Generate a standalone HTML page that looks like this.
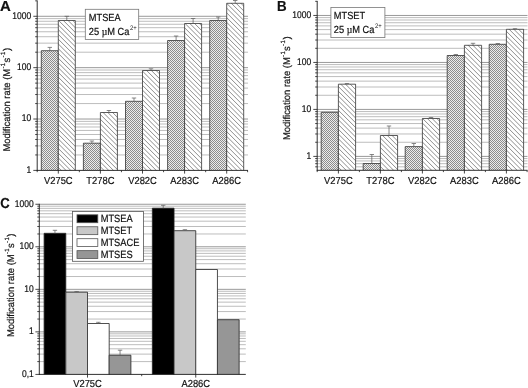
<!DOCTYPE html>
<html><head><meta charset="utf-8"><title>Figure</title>
<style>
html,body{margin:0;padding:0;background:#fff;}
body{width:528px;height:388px;overflow:hidden;font-family:"Liberation Sans",sans-serif;}
svg{display:block;will-change:transform;}
svg text{stroke:#111;stroke-width:0.2px;text-rendering:geometricPrecision;font-family:"Liberation Sans",sans-serif;fill:#111;}
</style></head><body>
<svg width="528" height="388" viewBox="0 0 528 388">
<defs>
<pattern id="dense" patternUnits="userSpaceOnUse" width="2" height="2">
<rect width="2" height="2" fill="#ececec"/>
<rect x="0" y="0" width="1" height="1" fill="#8c8c8c"/>
<rect x="1" y="1" width="1" height="1" fill="#8c8c8c"/>
</pattern>
</defs>
<rect width="528" height="388" fill="#fff"/>
<line x1="37.2" x2="248.0" y1="154.94" y2="154.94" stroke="#bdbdbd" stroke-width="1"/>
<line x1="37.2" x2="248.0" y1="145.89" y2="145.89" stroke="#bdbdbd" stroke-width="1"/>
<line x1="37.2" x2="248.0" y1="139.47" y2="139.47" stroke="#bdbdbd" stroke-width="1"/>
<line x1="37.2" x2="248.0" y1="134.49" y2="134.49" stroke="#bdbdbd" stroke-width="1"/>
<line x1="37.2" x2="248.0" y1="130.43" y2="130.43" stroke="#bdbdbd" stroke-width="1"/>
<line x1="37.2" x2="248.0" y1="126.99" y2="126.99" stroke="#bdbdbd" stroke-width="1"/>
<line x1="37.2" x2="248.0" y1="124.01" y2="124.01" stroke="#bdbdbd" stroke-width="1"/>
<line x1="37.2" x2="248.0" y1="121.38" y2="121.38" stroke="#bdbdbd" stroke-width="1"/>
<line x1="37.2" x2="248.0" y1="119.03" y2="119.03" stroke="#999" stroke-width="1"/>
<line x1="37.2" x2="248.0" y1="103.57" y2="103.57" stroke="#bdbdbd" stroke-width="1"/>
<line x1="37.2" x2="248.0" y1="94.52" y2="94.52" stroke="#bdbdbd" stroke-width="1"/>
<line x1="37.2" x2="248.0" y1="88.10" y2="88.10" stroke="#bdbdbd" stroke-width="1"/>
<line x1="37.2" x2="248.0" y1="83.12" y2="83.12" stroke="#bdbdbd" stroke-width="1"/>
<line x1="37.2" x2="248.0" y1="79.06" y2="79.06" stroke="#bdbdbd" stroke-width="1"/>
<line x1="37.2" x2="248.0" y1="75.62" y2="75.62" stroke="#bdbdbd" stroke-width="1"/>
<line x1="37.2" x2="248.0" y1="72.64" y2="72.64" stroke="#bdbdbd" stroke-width="1"/>
<line x1="37.2" x2="248.0" y1="70.01" y2="70.01" stroke="#bdbdbd" stroke-width="1"/>
<line x1="37.2" x2="248.0" y1="67.66" y2="67.66" stroke="#999" stroke-width="1"/>
<line x1="37.2" x2="248.0" y1="52.20" y2="52.20" stroke="#bdbdbd" stroke-width="1"/>
<line x1="37.2" x2="248.0" y1="43.15" y2="43.15" stroke="#bdbdbd" stroke-width="1"/>
<line x1="37.2" x2="248.0" y1="36.73" y2="36.73" stroke="#bdbdbd" stroke-width="1"/>
<line x1="37.2" x2="248.0" y1="31.75" y2="31.75" stroke="#bdbdbd" stroke-width="1"/>
<line x1="37.2" x2="248.0" y1="27.69" y2="27.69" stroke="#bdbdbd" stroke-width="1"/>
<line x1="37.2" x2="248.0" y1="24.25" y2="24.25" stroke="#bdbdbd" stroke-width="1"/>
<line x1="37.2" x2="248.0" y1="21.27" y2="21.27" stroke="#bdbdbd" stroke-width="1"/>
<line x1="37.2" x2="248.0" y1="18.64" y2="18.64" stroke="#bdbdbd" stroke-width="1"/>
<line x1="37.2" x2="248.0" y1="16.29" y2="16.29" stroke="#999" stroke-width="1"/>
<rect x="41.30" y="50.70" width="17.00" height="119.70" fill="#fff" stroke="none"/>
<rect x="41.30" y="50.70" width="17.00" height="119.70" fill="url(#dense)" stroke="none"/>
<path d="M41.30,170.40V50.70H58.30V170.40" fill="none" stroke="#333" stroke-width="0.8"/>
<line x1="49.80" x2="49.80" y1="50.70" y2="47.40" stroke="#606060" stroke-width="0.75"/>
<line x1="47.60" x2="52.00" y1="47.40" y2="47.40" stroke="#606060" stroke-width="0.75"/>
<rect x="58.30" y="20.50" width="17.00" height="149.90" fill="#fff" stroke="none"/>
<clipPath id="c1"><rect x="58.30" y="20.50" width="17.00" height="149.90"/></clipPath>
<path clip-path="url(#c1)" d="M57.30,0.20L76.30,19.20M57.30,4.95L76.30,23.95M57.30,9.70L76.30,28.70M57.30,14.45L76.30,33.45M57.30,19.20L76.30,38.20M57.30,23.95L76.30,42.95M57.30,28.70L76.30,47.70M57.30,33.45L76.30,52.45M57.30,38.20L76.30,57.20M57.30,42.95L76.30,61.95M57.30,47.70L76.30,66.70M57.30,52.45L76.30,71.45M57.30,57.20L76.30,76.20M57.30,61.95L76.30,80.95M57.30,66.70L76.30,85.70M57.30,71.45L76.30,90.45M57.30,76.20L76.30,95.20M57.30,80.95L76.30,99.95M57.30,85.70L76.30,104.70M57.30,90.45L76.30,109.45M57.30,95.20L76.30,114.20M57.30,99.95L76.30,118.95M57.30,104.70L76.30,123.70M57.30,109.45L76.30,128.45M57.30,114.20L76.30,133.20M57.30,118.95L76.30,137.95M57.30,123.70L76.30,142.70M57.30,128.45L76.30,147.45M57.30,133.20L76.30,152.20M57.30,137.95L76.30,156.95M57.30,142.70L76.30,161.70M57.30,147.45L76.30,166.45M57.30,152.20L76.30,171.20M57.30,156.95L76.30,175.95M57.30,161.70L76.30,180.70M57.30,166.45L76.30,185.45M57.30,171.20L76.30,190.20" stroke="#404040" stroke-width="0.6" fill="none"/>
<path d="M58.30,170.40V20.50H75.30V170.40" fill="none" stroke="#333" stroke-width="0.8"/>
<line x1="66.80" x2="66.80" y1="20.50" y2="16.30" stroke="#606060" stroke-width="0.75"/>
<line x1="64.60" x2="69.00" y1="16.30" y2="16.30" stroke="#606060" stroke-width="0.75"/>
<rect x="83.40" y="143.20" width="17.00" height="27.20" fill="#fff" stroke="none"/>
<rect x="83.40" y="143.20" width="17.00" height="27.20" fill="url(#dense)" stroke="none"/>
<path d="M83.40,170.40V143.20H100.40V170.40" fill="none" stroke="#333" stroke-width="0.8"/>
<line x1="91.90" x2="91.90" y1="143.20" y2="141.00" stroke="#606060" stroke-width="0.75"/>
<line x1="89.70" x2="94.10" y1="141.00" y2="141.00" stroke="#606060" stroke-width="0.75"/>
<rect x="100.40" y="112.50" width="17.00" height="57.90" fill="#fff" stroke="none"/>
<clipPath id="c2"><rect x="100.40" y="112.50" width="17.00" height="57.90"/></clipPath>
<path clip-path="url(#c2)" d="M99.40,89.80L118.40,108.80M99.40,94.55L118.40,113.55M99.40,99.30L118.40,118.30M99.40,104.05L118.40,123.05M99.40,108.80L118.40,127.80M99.40,113.55L118.40,132.55M99.40,118.30L118.40,137.30M99.40,123.05L118.40,142.05M99.40,127.80L118.40,146.80M99.40,132.55L118.40,151.55M99.40,137.30L118.40,156.30M99.40,142.05L118.40,161.05M99.40,146.80L118.40,165.80M99.40,151.55L118.40,170.55M99.40,156.30L118.40,175.30M99.40,161.05L118.40,180.05M99.40,165.80L118.40,184.80M99.40,170.55L118.40,189.55" stroke="#404040" stroke-width="0.6" fill="none"/>
<path d="M100.40,170.40V112.50H117.40V170.40" fill="none" stroke="#333" stroke-width="0.8"/>
<line x1="108.90" x2="108.90" y1="112.50" y2="110.50" stroke="#606060" stroke-width="0.75"/>
<line x1="106.70" x2="111.10" y1="110.50" y2="110.50" stroke="#606060" stroke-width="0.75"/>
<rect x="125.50" y="101.30" width="17.00" height="69.10" fill="#fff" stroke="none"/>
<rect x="125.50" y="101.30" width="17.00" height="69.10" fill="url(#dense)" stroke="none"/>
<path d="M125.50,170.40V101.30H142.50V170.40" fill="none" stroke="#333" stroke-width="0.8"/>
<line x1="134.00" x2="134.00" y1="101.30" y2="98.00" stroke="#606060" stroke-width="0.75"/>
<line x1="131.80" x2="136.20" y1="98.00" y2="98.00" stroke="#606060" stroke-width="0.75"/>
<rect x="142.50" y="70.50" width="17.00" height="99.90" fill="#fff" stroke="none"/>
<clipPath id="c3"><rect x="142.50" y="70.50" width="17.00" height="99.90"/></clipPath>
<path clip-path="url(#c3)" d="M141.50,51.15L160.50,70.15M141.50,55.90L160.50,74.90M141.50,60.65L160.50,79.65M141.50,65.40L160.50,84.40M141.50,70.15L160.50,89.15M141.50,74.90L160.50,93.90M141.50,79.65L160.50,98.65M141.50,84.40L160.50,103.40M141.50,89.15L160.50,108.15M141.50,93.90L160.50,112.90M141.50,98.65L160.50,117.65M141.50,103.40L160.50,122.40M141.50,108.15L160.50,127.15M141.50,112.90L160.50,131.90M141.50,117.65L160.50,136.65M141.50,122.40L160.50,141.40M141.50,127.15L160.50,146.15M141.50,131.90L160.50,150.90M141.50,136.65L160.50,155.65M141.50,141.40L160.50,160.40M141.50,146.15L160.50,165.15M141.50,150.90L160.50,169.90M141.50,155.65L160.50,174.65M141.50,160.40L160.50,179.40M141.50,165.15L160.50,184.15M141.50,169.90L160.50,188.90" stroke="#404040" stroke-width="0.6" fill="none"/>
<path d="M142.50,170.40V70.50H159.50V170.40" fill="none" stroke="#333" stroke-width="0.8"/>
<line x1="151.00" x2="151.00" y1="70.50" y2="68.80" stroke="#606060" stroke-width="0.75"/>
<line x1="148.80" x2="153.20" y1="68.80" y2="68.80" stroke="#606060" stroke-width="0.75"/>
<rect x="167.60" y="40.50" width="17.00" height="129.90" fill="#fff" stroke="none"/>
<rect x="167.60" y="40.50" width="17.00" height="129.90" fill="url(#dense)" stroke="none"/>
<path d="M167.60,170.40V40.50H184.60V170.40" fill="none" stroke="#333" stroke-width="0.8"/>
<line x1="176.10" x2="176.10" y1="40.50" y2="36.00" stroke="#606060" stroke-width="0.75"/>
<line x1="173.90" x2="178.30" y1="36.00" y2="36.00" stroke="#606060" stroke-width="0.75"/>
<rect x="184.60" y="23.50" width="17.00" height="146.90" fill="#fff" stroke="none"/>
<clipPath id="c4"><rect x="184.60" y="23.50" width="17.00" height="146.90"/></clipPath>
<path clip-path="url(#c4)" d="M183.60,3.00L202.60,22.00M183.60,7.75L202.60,26.75M183.60,12.50L202.60,31.50M183.60,17.25L202.60,36.25M183.60,22.00L202.60,41.00M183.60,26.75L202.60,45.75M183.60,31.50L202.60,50.50M183.60,36.25L202.60,55.25M183.60,41.00L202.60,60.00M183.60,45.75L202.60,64.75M183.60,50.50L202.60,69.50M183.60,55.25L202.60,74.25M183.60,60.00L202.60,79.00M183.60,64.75L202.60,83.75M183.60,69.50L202.60,88.50M183.60,74.25L202.60,93.25M183.60,79.00L202.60,98.00M183.60,83.75L202.60,102.75M183.60,88.50L202.60,107.50M183.60,93.25L202.60,112.25M183.60,98.00L202.60,117.00M183.60,102.75L202.60,121.75M183.60,107.50L202.60,126.50M183.60,112.25L202.60,131.25M183.60,117.00L202.60,136.00M183.60,121.75L202.60,140.75M183.60,126.50L202.60,145.50M183.60,131.25L202.60,150.25M183.60,136.00L202.60,155.00M183.60,140.75L202.60,159.75M183.60,145.50L202.60,164.50M183.60,150.25L202.60,169.25M183.60,155.00L202.60,174.00M183.60,159.75L202.60,178.75M183.60,164.50L202.60,183.50M183.60,169.25L202.60,188.25M183.60,174.00L202.60,193.00" stroke="#404040" stroke-width="0.6" fill="none"/>
<path d="M184.60,170.40V23.50H201.60V170.40" fill="none" stroke="#333" stroke-width="0.8"/>
<line x1="193.10" x2="193.10" y1="23.50" y2="18.50" stroke="#606060" stroke-width="0.75"/>
<line x1="190.90" x2="195.30" y1="18.50" y2="18.50" stroke="#606060" stroke-width="0.75"/>
<rect x="209.70" y="20.50" width="17.00" height="149.90" fill="#fff" stroke="none"/>
<rect x="209.70" y="20.50" width="17.00" height="149.90" fill="url(#dense)" stroke="none"/>
<path d="M209.70,170.40V20.50H226.70V170.40" fill="none" stroke="#333" stroke-width="0.8"/>
<line x1="218.20" x2="218.20" y1="20.50" y2="17.00" stroke="#606060" stroke-width="0.75"/>
<line x1="216.00" x2="220.40" y1="17.00" y2="17.00" stroke="#606060" stroke-width="0.75"/>
<rect x="226.70" y="3.30" width="17.00" height="167.10" fill="#fff" stroke="none"/>
<clipPath id="c5"><rect x="226.70" y="3.30" width="17.00" height="167.10"/></clipPath>
<path clip-path="url(#c5)" d="M225.70,-16.65L244.70,2.35M225.70,-11.90L244.70,7.10M225.70,-7.15L244.70,11.85M225.70,-2.40L244.70,16.60M225.70,2.35L244.70,21.35M225.70,7.10L244.70,26.10M225.70,11.85L244.70,30.85M225.70,16.60L244.70,35.60M225.70,21.35L244.70,40.35M225.70,26.10L244.70,45.10M225.70,30.85L244.70,49.85M225.70,35.60L244.70,54.60M225.70,40.35L244.70,59.35M225.70,45.10L244.70,64.10M225.70,49.85L244.70,68.85M225.70,54.60L244.70,73.60M225.70,59.35L244.70,78.35M225.70,64.10L244.70,83.10M225.70,68.85L244.70,87.85M225.70,73.60L244.70,92.60M225.70,78.35L244.70,97.35M225.70,83.10L244.70,102.10M225.70,87.85L244.70,106.85M225.70,92.60L244.70,111.60M225.70,97.35L244.70,116.35M225.70,102.10L244.70,121.10M225.70,106.85L244.70,125.85M225.70,111.60L244.70,130.60M225.70,116.35L244.70,135.35M225.70,121.10L244.70,140.10M225.70,125.85L244.70,144.85M225.70,130.60L244.70,149.60M225.70,135.35L244.70,154.35M225.70,140.10L244.70,159.10M225.70,144.85L244.70,163.85M225.70,149.60L244.70,168.60M225.70,154.35L244.70,173.35M225.70,159.10L244.70,178.10M225.70,163.85L244.70,182.85M225.70,168.60L244.70,187.60M225.70,173.35L244.70,192.35" stroke="#404040" stroke-width="0.6" fill="none"/>
<path d="M226.70,170.40V3.30H243.70V170.40" fill="none" stroke="#333" stroke-width="0.8"/>
<line x1="235.20" x2="235.20" y1="3.30" y2="0.50" stroke="#606060" stroke-width="0.75"/>
<line x1="233.00" x2="237.40" y1="0.50" y2="0.50" stroke="#606060" stroke-width="0.75"/>
<line x1="37.2" x2="37.2" y1="0.4260891227413083" y2="170.8" stroke="#1a1a1a" stroke-width="0.9"/>
<line x1="36.800000000000004" x2="248.0" y1="170.4" y2="170.4" stroke="#1a1a1a" stroke-width="0.9"/>
<line x1="33.300000000000004" x2="37.2" y1="170.40" y2="170.40" stroke="#1a1a1a" stroke-width="0.8"/>
<text transform="translate(31.20,172.85) scale(0.865,1)" text-anchor="end" font-size="9.8" >1</text>
<line x1="35.2" x2="37.2" y1="154.94" y2="154.94" stroke="#1a1a1a" stroke-width="0.8"/>
<line x1="35.2" x2="37.2" y1="145.89" y2="145.89" stroke="#1a1a1a" stroke-width="0.8"/>
<line x1="35.2" x2="37.2" y1="139.47" y2="139.47" stroke="#1a1a1a" stroke-width="0.8"/>
<line x1="35.2" x2="37.2" y1="134.49" y2="134.49" stroke="#1a1a1a" stroke-width="0.8"/>
<line x1="35.2" x2="37.2" y1="130.43" y2="130.43" stroke="#1a1a1a" stroke-width="0.8"/>
<line x1="35.2" x2="37.2" y1="126.99" y2="126.99" stroke="#1a1a1a" stroke-width="0.8"/>
<line x1="35.2" x2="37.2" y1="124.01" y2="124.01" stroke="#1a1a1a" stroke-width="0.8"/>
<line x1="35.2" x2="37.2" y1="121.38" y2="121.38" stroke="#1a1a1a" stroke-width="0.8"/>
<line x1="33.300000000000004" x2="37.2" y1="119.03" y2="119.03" stroke="#1a1a1a" stroke-width="0.8"/>
<text transform="translate(31.20,121.48) scale(0.865,1)" text-anchor="end" font-size="9.8" >10</text>
<line x1="35.2" x2="37.2" y1="103.57" y2="103.57" stroke="#1a1a1a" stroke-width="0.8"/>
<line x1="35.2" x2="37.2" y1="94.52" y2="94.52" stroke="#1a1a1a" stroke-width="0.8"/>
<line x1="35.2" x2="37.2" y1="88.10" y2="88.10" stroke="#1a1a1a" stroke-width="0.8"/>
<line x1="35.2" x2="37.2" y1="83.12" y2="83.12" stroke="#1a1a1a" stroke-width="0.8"/>
<line x1="35.2" x2="37.2" y1="79.06" y2="79.06" stroke="#1a1a1a" stroke-width="0.8"/>
<line x1="35.2" x2="37.2" y1="75.62" y2="75.62" stroke="#1a1a1a" stroke-width="0.8"/>
<line x1="35.2" x2="37.2" y1="72.64" y2="72.64" stroke="#1a1a1a" stroke-width="0.8"/>
<line x1="35.2" x2="37.2" y1="70.01" y2="70.01" stroke="#1a1a1a" stroke-width="0.8"/>
<line x1="33.300000000000004" x2="37.2" y1="67.66" y2="67.66" stroke="#1a1a1a" stroke-width="0.8"/>
<text transform="translate(31.20,70.11) scale(0.865,1)" text-anchor="end" font-size="9.8" >100</text>
<line x1="35.2" x2="37.2" y1="52.20" y2="52.20" stroke="#1a1a1a" stroke-width="0.8"/>
<line x1="35.2" x2="37.2" y1="43.15" y2="43.15" stroke="#1a1a1a" stroke-width="0.8"/>
<line x1="35.2" x2="37.2" y1="36.73" y2="36.73" stroke="#1a1a1a" stroke-width="0.8"/>
<line x1="35.2" x2="37.2" y1="31.75" y2="31.75" stroke="#1a1a1a" stroke-width="0.8"/>
<line x1="35.2" x2="37.2" y1="27.69" y2="27.69" stroke="#1a1a1a" stroke-width="0.8"/>
<line x1="35.2" x2="37.2" y1="24.25" y2="24.25" stroke="#1a1a1a" stroke-width="0.8"/>
<line x1="35.2" x2="37.2" y1="21.27" y2="21.27" stroke="#1a1a1a" stroke-width="0.8"/>
<line x1="35.2" x2="37.2" y1="18.64" y2="18.64" stroke="#1a1a1a" stroke-width="0.8"/>
<line x1="33.300000000000004" x2="37.2" y1="16.29" y2="16.29" stroke="#1a1a1a" stroke-width="0.8"/>
<text transform="translate(31.20,18.74) scale(0.865,1)" text-anchor="end" font-size="9.8" >1000</text>
<line x1="35.2" x2="37.2" y1="0.83" y2="0.83" stroke="#1a1a1a" stroke-width="0.8"/>
<line x1="58.3" x2="58.3" y1="170.4" y2="173.6" stroke="#1a1a1a" stroke-width="0.8"/>
<line x1="100.4" x2="100.4" y1="170.4" y2="173.6" stroke="#1a1a1a" stroke-width="0.8"/>
<line x1="142.5" x2="142.5" y1="170.4" y2="173.6" stroke="#1a1a1a" stroke-width="0.8"/>
<line x1="184.60000000000002" x2="184.60000000000002" y1="170.4" y2="173.6" stroke="#1a1a1a" stroke-width="0.8"/>
<line x1="226.7" x2="226.7" y1="170.4" y2="173.6" stroke="#1a1a1a" stroke-width="0.8"/>
<line x1="79.35" x2="79.35" y1="170.4" y2="172.20000000000002" stroke="#1a1a1a" stroke-width="0.8"/>
<line x1="121.45" x2="121.45" y1="170.4" y2="172.20000000000002" stroke="#1a1a1a" stroke-width="0.8"/>
<line x1="163.55" x2="163.55" y1="170.4" y2="172.20000000000002" stroke="#1a1a1a" stroke-width="0.8"/>
<line x1="205.65" x2="205.65" y1="170.4" y2="172.20000000000002" stroke="#1a1a1a" stroke-width="0.8"/>
<line x1="247.6" x2="247.6" y1="170.4" y2="172.20000000000002" stroke="#1a1a1a" stroke-width="0.8"/>
<line x1="37.2" x2="37.2" y1="170.4" y2="172.20000000000002" stroke="#1a1a1a" stroke-width="0.8"/>
<text transform="translate(58.30,183.60) scale(0.92,1)" text-anchor="middle" font-size="10.2" >V275C</text>
<text transform="translate(100.40,183.60) scale(0.92,1)" text-anchor="middle" font-size="10.2" >T278C</text>
<text transform="translate(142.50,183.60) scale(0.92,1)" text-anchor="middle" font-size="10.2" >V282C</text>
<text transform="translate(184.60,183.60) scale(0.92,1)" text-anchor="middle" font-size="10.2" >A283C</text>
<text transform="translate(226.70,183.60) scale(0.92,1)" text-anchor="middle" font-size="10.2" >A286C</text>
<text transform="translate(9.8,99.75) rotate(-90) scale(0.962,1.0)" text-anchor="middle" font-size="9.8">Modification rate (M<tspan font-size="6.2" dy="-5.2" dx="0.3" letter-spacing="0.4">-1</tspan><tspan dy="5.2">s</tspan><tspan font-size="6.2" dy="-5.2" dx="0.3" letter-spacing="0.4">-1</tspan><tspan dy="5.2" dx="0.3">)</tspan></text>
<text transform="translate(0.1,10.7) scale(1.03,1)" font-size="14.5" font-weight="bold" fill="#000" stroke="#000" stroke-width="0.3">A</text>
<rect x="85.3" y="9.3" width="53.39999999999999" height="30.099999999999998" fill="#fff" stroke="#777" stroke-width="0.8"/>
<text transform="translate(88.80,21.30) scale(0.9,1)" text-anchor="start" font-size="10.3" >MTSEA</text>
<text transform="translate(88.80,35.00) scale(0.9,1)" text-anchor="start" font-size="10.3" >25 <tspan font-family="Liberation Serif" font-size="10.8">µ</tspan>M Ca<tspan font-size="6.6" dy="-4.8" dx="0.5" stroke="none">2+</tspan></text>
<line x1="317.2" x2="527.5" y1="166.82" y2="166.82" stroke="#bdbdbd" stroke-width="1"/>
<line x1="317.2" x2="527.5" y1="163.68" y2="163.68" stroke="#bdbdbd" stroke-width="1"/>
<line x1="317.2" x2="527.5" y1="160.95" y2="160.95" stroke="#bdbdbd" stroke-width="1"/>
<line x1="317.2" x2="527.5" y1="158.55" y2="158.55" stroke="#bdbdbd" stroke-width="1"/>
<line x1="317.2" x2="527.5" y1="156.40" y2="156.40" stroke="#999" stroke-width="1"/>
<line x1="317.2" x2="527.5" y1="142.26" y2="142.26" stroke="#bdbdbd" stroke-width="1"/>
<line x1="317.2" x2="527.5" y1="133.98" y2="133.98" stroke="#bdbdbd" stroke-width="1"/>
<line x1="317.2" x2="527.5" y1="128.12" y2="128.12" stroke="#bdbdbd" stroke-width="1"/>
<line x1="317.2" x2="527.5" y1="123.56" y2="123.56" stroke="#bdbdbd" stroke-width="1"/>
<line x1="317.2" x2="527.5" y1="119.84" y2="119.84" stroke="#bdbdbd" stroke-width="1"/>
<line x1="317.2" x2="527.5" y1="116.70" y2="116.70" stroke="#bdbdbd" stroke-width="1"/>
<line x1="317.2" x2="527.5" y1="113.97" y2="113.97" stroke="#bdbdbd" stroke-width="1"/>
<line x1="317.2" x2="527.5" y1="111.57" y2="111.57" stroke="#bdbdbd" stroke-width="1"/>
<line x1="317.2" x2="527.5" y1="109.42" y2="109.42" stroke="#999" stroke-width="1"/>
<line x1="317.2" x2="527.5" y1="95.28" y2="95.28" stroke="#bdbdbd" stroke-width="1"/>
<line x1="317.2" x2="527.5" y1="87.00" y2="87.00" stroke="#bdbdbd" stroke-width="1"/>
<line x1="317.2" x2="527.5" y1="81.14" y2="81.14" stroke="#bdbdbd" stroke-width="1"/>
<line x1="317.2" x2="527.5" y1="76.58" y2="76.58" stroke="#bdbdbd" stroke-width="1"/>
<line x1="317.2" x2="527.5" y1="72.86" y2="72.86" stroke="#bdbdbd" stroke-width="1"/>
<line x1="317.2" x2="527.5" y1="69.72" y2="69.72" stroke="#bdbdbd" stroke-width="1"/>
<line x1="317.2" x2="527.5" y1="66.99" y2="66.99" stroke="#bdbdbd" stroke-width="1"/>
<line x1="317.2" x2="527.5" y1="64.59" y2="64.59" stroke="#bdbdbd" stroke-width="1"/>
<line x1="317.2" x2="527.5" y1="62.44" y2="62.44" stroke="#999" stroke-width="1"/>
<line x1="317.2" x2="527.5" y1="48.30" y2="48.30" stroke="#bdbdbd" stroke-width="1"/>
<line x1="317.2" x2="527.5" y1="40.02" y2="40.02" stroke="#bdbdbd" stroke-width="1"/>
<line x1="317.2" x2="527.5" y1="34.16" y2="34.16" stroke="#bdbdbd" stroke-width="1"/>
<line x1="317.2" x2="527.5" y1="29.60" y2="29.60" stroke="#bdbdbd" stroke-width="1"/>
<line x1="317.2" x2="527.5" y1="25.88" y2="25.88" stroke="#bdbdbd" stroke-width="1"/>
<line x1="317.2" x2="527.5" y1="22.74" y2="22.74" stroke="#bdbdbd" stroke-width="1"/>
<line x1="317.2" x2="527.5" y1="20.01" y2="20.01" stroke="#bdbdbd" stroke-width="1"/>
<line x1="317.2" x2="527.5" y1="17.61" y2="17.61" stroke="#bdbdbd" stroke-width="1"/>
<line x1="317.2" x2="527.5" y1="15.46" y2="15.46" stroke="#999" stroke-width="1"/>
<rect x="321.20" y="112.30" width="17.20" height="58.00" fill="#fff" stroke="none"/>
<rect x="321.20" y="112.30" width="17.20" height="58.00" fill="url(#dense)" stroke="none"/>
<path d="M321.20,170.30V112.30H338.40V170.30" fill="none" stroke="#333" stroke-width="0.8"/>
<rect x="338.40" y="84.20" width="17.20" height="86.10" fill="#fff" stroke="none"/>
<clipPath id="c6"><rect x="338.40" y="84.20" width="17.20" height="86.10"/></clipPath>
<path clip-path="url(#c6)" d="M337.40,61.80L356.60,81.00M337.40,66.55L356.60,85.75M337.40,71.30L356.60,90.50M337.40,76.05L356.60,95.25M337.40,80.80L356.60,100.00M337.40,85.55L356.60,104.75M337.40,90.30L356.60,109.50M337.40,95.05L356.60,114.25M337.40,99.80L356.60,119.00M337.40,104.55L356.60,123.75M337.40,109.30L356.60,128.50M337.40,114.05L356.60,133.25M337.40,118.80L356.60,138.00M337.40,123.55L356.60,142.75M337.40,128.30L356.60,147.50M337.40,133.05L356.60,152.25M337.40,137.80L356.60,157.00M337.40,142.55L356.60,161.75M337.40,147.30L356.60,166.50M337.40,152.05L356.60,171.25M337.40,156.80L356.60,176.00M337.40,161.55L356.60,180.75M337.40,166.30L356.60,185.50M337.40,171.05L356.60,190.25" stroke="#404040" stroke-width="0.6" fill="none"/>
<path d="M338.40,170.30V84.20H355.60V170.30" fill="none" stroke="#333" stroke-width="0.8"/>
<line x1="347.00" x2="347.00" y1="84.20" y2="83.50" stroke="#606060" stroke-width="0.75"/>
<line x1="344.80" x2="349.20" y1="83.50" y2="83.50" stroke="#606060" stroke-width="0.75"/>
<rect x="363.20" y="163.50" width="17.20" height="6.80" fill="#fff" stroke="none"/>
<rect x="363.20" y="163.50" width="17.20" height="6.80" fill="url(#dense)" stroke="none"/>
<path d="M363.20,170.30V163.50H380.40V170.30" fill="none" stroke="#333" stroke-width="0.8"/>
<line x1="371.80" x2="371.80" y1="163.50" y2="154.50" stroke="#606060" stroke-width="0.75"/>
<line x1="369.60" x2="374.00" y1="154.50" y2="154.50" stroke="#606060" stroke-width="0.75"/>
<rect x="380.40" y="135.50" width="17.20" height="34.80" fill="#fff" stroke="none"/>
<clipPath id="c7"><rect x="380.40" y="135.50" width="17.20" height="34.80"/></clipPath>
<path clip-path="url(#c7)" d="M379.40,113.30L398.60,132.50M379.40,118.05L398.60,137.25M379.40,122.80L398.60,142.00M379.40,127.55L398.60,146.75M379.40,132.30L398.60,151.50M379.40,137.05L398.60,156.25M379.40,141.80L398.60,161.00M379.40,146.55L398.60,165.75M379.40,151.30L398.60,170.50M379.40,156.05L398.60,175.25M379.40,160.80L398.60,180.00M379.40,165.55L398.60,184.75M379.40,170.30L398.60,189.50" stroke="#404040" stroke-width="0.6" fill="none"/>
<path d="M380.40,170.30V135.50H397.60V170.30" fill="none" stroke="#333" stroke-width="0.8"/>
<line x1="389.00" x2="389.00" y1="135.50" y2="126.00" stroke="#606060" stroke-width="0.75"/>
<line x1="386.80" x2="391.20" y1="126.00" y2="126.00" stroke="#606060" stroke-width="0.75"/>
<rect x="405.20" y="146.60" width="17.20" height="23.70" fill="#fff" stroke="none"/>
<rect x="405.20" y="146.60" width="17.20" height="23.70" fill="url(#dense)" stroke="none"/>
<path d="M405.20,170.30V146.60H422.40V170.30" fill="none" stroke="#333" stroke-width="0.8"/>
<line x1="413.80" x2="413.80" y1="146.60" y2="143.50" stroke="#606060" stroke-width="0.75"/>
<line x1="411.60" x2="416.00" y1="143.50" y2="143.50" stroke="#606060" stroke-width="0.75"/>
<rect x="422.40" y="118.50" width="17.20" height="51.80" fill="#fff" stroke="none"/>
<clipPath id="c8"><rect x="422.40" y="118.50" width="17.20" height="51.80"/></clipPath>
<path clip-path="url(#c8)" d="M421.40,98.30L440.60,117.50M421.40,103.05L440.60,122.25M421.40,107.80L440.60,127.00M421.40,112.55L440.60,131.75M421.40,117.30L440.60,136.50M421.40,122.05L440.60,141.25M421.40,126.80L440.60,146.00M421.40,131.55L440.60,150.75M421.40,136.30L440.60,155.50M421.40,141.05L440.60,160.25M421.40,145.80L440.60,165.00M421.40,150.55L440.60,169.75M421.40,155.30L440.60,174.50M421.40,160.05L440.60,179.25M421.40,164.80L440.60,184.00M421.40,169.55L440.60,188.75" stroke="#404040" stroke-width="0.6" fill="none"/>
<path d="M422.40,170.30V118.50H439.60V170.30" fill="none" stroke="#333" stroke-width="0.8"/>
<line x1="431.00" x2="431.00" y1="118.50" y2="117.50" stroke="#606060" stroke-width="0.75"/>
<line x1="428.80" x2="433.20" y1="117.50" y2="117.50" stroke="#606060" stroke-width="0.75"/>
<rect x="447.20" y="55.50" width="17.20" height="114.80" fill="#fff" stroke="none"/>
<rect x="447.20" y="55.50" width="17.20" height="114.80" fill="url(#dense)" stroke="none"/>
<path d="M447.20,170.30V55.50H464.40V170.30" fill="none" stroke="#333" stroke-width="0.8"/>
<line x1="455.80" x2="455.80" y1="55.50" y2="54.50" stroke="#606060" stroke-width="0.75"/>
<line x1="453.60" x2="458.00" y1="54.50" y2="54.50" stroke="#606060" stroke-width="0.75"/>
<rect x="464.40" y="45.30" width="17.20" height="125.00" fill="#fff" stroke="none"/>
<clipPath id="c9"><rect x="464.40" y="45.30" width="17.20" height="125.00"/></clipPath>
<path clip-path="url(#c9)" d="M463.40,26.30L482.60,45.50M463.40,31.05L482.60,50.25M463.40,35.80L482.60,55.00M463.40,40.55L482.60,59.75M463.40,45.30L482.60,64.50M463.40,50.05L482.60,69.25M463.40,54.80L482.60,74.00M463.40,59.55L482.60,78.75M463.40,64.30L482.60,83.50M463.40,69.05L482.60,88.25M463.40,73.80L482.60,93.00M463.40,78.55L482.60,97.75M463.40,83.30L482.60,102.50M463.40,88.05L482.60,107.25M463.40,92.80L482.60,112.00M463.40,97.55L482.60,116.75M463.40,102.30L482.60,121.50M463.40,107.05L482.60,126.25M463.40,111.80L482.60,131.00M463.40,116.55L482.60,135.75M463.40,121.30L482.60,140.50M463.40,126.05L482.60,145.25M463.40,130.80L482.60,150.00M463.40,135.55L482.60,154.75M463.40,140.30L482.60,159.50M463.40,145.05L482.60,164.25M463.40,149.80L482.60,169.00M463.40,154.55L482.60,173.75M463.40,159.30L482.60,178.50M463.40,164.05L482.60,183.25M463.40,168.80L482.60,188.00M463.40,173.55L482.60,192.75" stroke="#404040" stroke-width="0.6" fill="none"/>
<path d="M464.40,170.30V45.30H481.60V170.30" fill="none" stroke="#333" stroke-width="0.8"/>
<line x1="473.00" x2="473.00" y1="45.30" y2="43.30" stroke="#606060" stroke-width="0.75"/>
<line x1="470.80" x2="475.20" y1="43.30" y2="43.30" stroke="#606060" stroke-width="0.75"/>
<rect x="489.20" y="44.30" width="17.20" height="126.00" fill="#fff" stroke="none"/>
<rect x="489.20" y="44.30" width="17.20" height="126.00" fill="url(#dense)" stroke="none"/>
<path d="M489.20,170.30V44.30H506.40V170.30" fill="none" stroke="#333" stroke-width="0.8"/>
<line x1="497.80" x2="497.80" y1="44.30" y2="43.50" stroke="#606060" stroke-width="0.75"/>
<line x1="495.60" x2="500.00" y1="43.50" y2="43.50" stroke="#606060" stroke-width="0.75"/>
<rect x="506.40" y="29.30" width="17.20" height="141.00" fill="#fff" stroke="none"/>
<clipPath id="c10"><rect x="506.40" y="29.30" width="17.20" height="141.00"/></clipPath>
<path clip-path="url(#c10)" d="M505.40,6.55L524.60,25.75M505.40,11.30L524.60,30.50M505.40,16.05L524.60,35.25M505.40,20.80L524.60,40.00M505.40,25.55L524.60,44.75M505.40,30.30L524.60,49.50M505.40,35.05L524.60,54.25M505.40,39.80L524.60,59.00M505.40,44.55L524.60,63.75M505.40,49.30L524.60,68.50M505.40,54.05L524.60,73.25M505.40,58.80L524.60,78.00M505.40,63.55L524.60,82.75M505.40,68.30L524.60,87.50M505.40,73.05L524.60,92.25M505.40,77.80L524.60,97.00M505.40,82.55L524.60,101.75M505.40,87.30L524.60,106.50M505.40,92.05L524.60,111.25M505.40,96.80L524.60,116.00M505.40,101.55L524.60,120.75M505.40,106.30L524.60,125.50M505.40,111.05L524.60,130.25M505.40,115.80L524.60,135.00M505.40,120.55L524.60,139.75M505.40,125.30L524.60,144.50M505.40,130.05L524.60,149.25M505.40,134.80L524.60,154.00M505.40,139.55L524.60,158.75M505.40,144.30L524.60,163.50M505.40,149.05L524.60,168.25M505.40,153.80L524.60,173.00M505.40,158.55L524.60,177.75M505.40,163.30L524.60,182.50M505.40,168.05L524.60,187.25M505.40,172.80L524.60,192.00" stroke="#404040" stroke-width="0.6" fill="none"/>
<path d="M506.40,170.30V29.30H523.60V170.30" fill="none" stroke="#333" stroke-width="0.8"/>
<line x1="515.00" x2="515.00" y1="29.30" y2="28.70" stroke="#606060" stroke-width="0.75"/>
<line x1="512.80" x2="517.20" y1="28.70" y2="28.70" stroke="#606060" stroke-width="0.75"/>
<line x1="317.2" x2="317.2" y1="0.9176108037061738" y2="170.70000000000002" stroke="#1a1a1a" stroke-width="0.9"/>
<line x1="316.8" x2="527.5" y1="170.3" y2="170.3" stroke="#1a1a1a" stroke-width="0.9"/>
<line x1="315.2" x2="317.2" y1="166.82" y2="166.82" stroke="#1a1a1a" stroke-width="0.8"/>
<line x1="315.2" x2="317.2" y1="163.68" y2="163.68" stroke="#1a1a1a" stroke-width="0.8"/>
<line x1="315.2" x2="317.2" y1="160.95" y2="160.95" stroke="#1a1a1a" stroke-width="0.8"/>
<line x1="315.2" x2="317.2" y1="158.55" y2="158.55" stroke="#1a1a1a" stroke-width="0.8"/>
<line x1="313.3" x2="317.2" y1="156.40" y2="156.40" stroke="#1a1a1a" stroke-width="0.8"/>
<text transform="translate(311.20,158.85) scale(0.865,1)" text-anchor="end" font-size="9.8" >1</text>
<line x1="315.2" x2="317.2" y1="142.26" y2="142.26" stroke="#1a1a1a" stroke-width="0.8"/>
<line x1="315.2" x2="317.2" y1="133.98" y2="133.98" stroke="#1a1a1a" stroke-width="0.8"/>
<line x1="315.2" x2="317.2" y1="128.12" y2="128.12" stroke="#1a1a1a" stroke-width="0.8"/>
<line x1="315.2" x2="317.2" y1="123.56" y2="123.56" stroke="#1a1a1a" stroke-width="0.8"/>
<line x1="315.2" x2="317.2" y1="119.84" y2="119.84" stroke="#1a1a1a" stroke-width="0.8"/>
<line x1="315.2" x2="317.2" y1="116.70" y2="116.70" stroke="#1a1a1a" stroke-width="0.8"/>
<line x1="315.2" x2="317.2" y1="113.97" y2="113.97" stroke="#1a1a1a" stroke-width="0.8"/>
<line x1="315.2" x2="317.2" y1="111.57" y2="111.57" stroke="#1a1a1a" stroke-width="0.8"/>
<line x1="313.3" x2="317.2" y1="109.42" y2="109.42" stroke="#1a1a1a" stroke-width="0.8"/>
<text transform="translate(311.20,111.87) scale(0.865,1)" text-anchor="end" font-size="9.8" >10</text>
<line x1="315.2" x2="317.2" y1="95.28" y2="95.28" stroke="#1a1a1a" stroke-width="0.8"/>
<line x1="315.2" x2="317.2" y1="87.00" y2="87.00" stroke="#1a1a1a" stroke-width="0.8"/>
<line x1="315.2" x2="317.2" y1="81.14" y2="81.14" stroke="#1a1a1a" stroke-width="0.8"/>
<line x1="315.2" x2="317.2" y1="76.58" y2="76.58" stroke="#1a1a1a" stroke-width="0.8"/>
<line x1="315.2" x2="317.2" y1="72.86" y2="72.86" stroke="#1a1a1a" stroke-width="0.8"/>
<line x1="315.2" x2="317.2" y1="69.72" y2="69.72" stroke="#1a1a1a" stroke-width="0.8"/>
<line x1="315.2" x2="317.2" y1="66.99" y2="66.99" stroke="#1a1a1a" stroke-width="0.8"/>
<line x1="315.2" x2="317.2" y1="64.59" y2="64.59" stroke="#1a1a1a" stroke-width="0.8"/>
<line x1="313.3" x2="317.2" y1="62.44" y2="62.44" stroke="#1a1a1a" stroke-width="0.8"/>
<text transform="translate(311.20,64.89) scale(0.865,1)" text-anchor="end" font-size="9.8" >100</text>
<line x1="315.2" x2="317.2" y1="48.30" y2="48.30" stroke="#1a1a1a" stroke-width="0.8"/>
<line x1="315.2" x2="317.2" y1="40.02" y2="40.02" stroke="#1a1a1a" stroke-width="0.8"/>
<line x1="315.2" x2="317.2" y1="34.16" y2="34.16" stroke="#1a1a1a" stroke-width="0.8"/>
<line x1="315.2" x2="317.2" y1="29.60" y2="29.60" stroke="#1a1a1a" stroke-width="0.8"/>
<line x1="315.2" x2="317.2" y1="25.88" y2="25.88" stroke="#1a1a1a" stroke-width="0.8"/>
<line x1="315.2" x2="317.2" y1="22.74" y2="22.74" stroke="#1a1a1a" stroke-width="0.8"/>
<line x1="315.2" x2="317.2" y1="20.01" y2="20.01" stroke="#1a1a1a" stroke-width="0.8"/>
<line x1="315.2" x2="317.2" y1="17.61" y2="17.61" stroke="#1a1a1a" stroke-width="0.8"/>
<line x1="313.3" x2="317.2" y1="15.46" y2="15.46" stroke="#1a1a1a" stroke-width="0.8"/>
<text transform="translate(311.20,17.91) scale(0.865,1)" text-anchor="end" font-size="9.8" >1000</text>
<line x1="315.2" x2="317.2" y1="1.32" y2="1.32" stroke="#1a1a1a" stroke-width="0.8"/>
<line x1="338.4" x2="338.4" y1="170.3" y2="173.5" stroke="#1a1a1a" stroke-width="0.8"/>
<line x1="380.4" x2="380.4" y1="170.3" y2="173.5" stroke="#1a1a1a" stroke-width="0.8"/>
<line x1="422.4" x2="422.4" y1="170.3" y2="173.5" stroke="#1a1a1a" stroke-width="0.8"/>
<line x1="464.4" x2="464.4" y1="170.3" y2="173.5" stroke="#1a1a1a" stroke-width="0.8"/>
<line x1="506.4" x2="506.4" y1="170.3" y2="173.5" stroke="#1a1a1a" stroke-width="0.8"/>
<line x1="359.4" x2="359.4" y1="170.3" y2="172.10000000000002" stroke="#1a1a1a" stroke-width="0.8"/>
<line x1="401.4" x2="401.4" y1="170.3" y2="172.10000000000002" stroke="#1a1a1a" stroke-width="0.8"/>
<line x1="443.4" x2="443.4" y1="170.3" y2="172.10000000000002" stroke="#1a1a1a" stroke-width="0.8"/>
<line x1="485.4" x2="485.4" y1="170.3" y2="172.10000000000002" stroke="#1a1a1a" stroke-width="0.8"/>
<line x1="527.1" x2="527.1" y1="170.3" y2="172.10000000000002" stroke="#1a1a1a" stroke-width="0.8"/>
<line x1="317.2" x2="317.2" y1="170.3" y2="172.10000000000002" stroke="#1a1a1a" stroke-width="0.8"/>
<text transform="translate(338.40,183.60) scale(0.92,1)" text-anchor="middle" font-size="10.2" >V275C</text>
<text transform="translate(380.40,183.60) scale(0.92,1)" text-anchor="middle" font-size="10.2" >T278C</text>
<text transform="translate(422.40,183.60) scale(0.92,1)" text-anchor="middle" font-size="10.2" >V282C</text>
<text transform="translate(464.40,183.60) scale(0.92,1)" text-anchor="middle" font-size="10.2" >A283C</text>
<text transform="translate(506.40,183.60) scale(0.92,1)" text-anchor="middle" font-size="10.2" >A286C</text>
<text transform="translate(290.0,88.2) rotate(-90) scale(0.962,1.0)" text-anchor="middle" font-size="9.8">Modification rate (M<tspan font-size="6.2" dy="-5.2" dx="0.3" letter-spacing="0.4">-1</tspan><tspan dy="5.2">s</tspan><tspan font-size="6.2" dy="-5.2" dx="0.3" letter-spacing="0.4">-1</tspan><tspan dy="5.2" dx="0.3">)</tspan></text>
<text transform="translate(276.9,10.7) scale(0.92,1)" font-size="14.5" font-weight="bold" fill="#000" stroke="#000" stroke-width="0.3">B</text>
<rect x="330.9" y="7.4" width="54.0" height="30.200000000000003" fill="#fff" stroke="#777" stroke-width="0.8"/>
<text transform="translate(333.80,19.30) scale(0.9,1)" text-anchor="start" font-size="10.3" >MTSET</text>
<text transform="translate(333.80,33.00) scale(0.9,1)" text-anchor="start" font-size="10.3" >25 <tspan font-family="Liberation Serif" font-size="10.8">µ</tspan>M Ca<tspan font-size="6.6" dy="-4.8" dx="0.5" stroke="none">2+</tspan></text>
<line x1="39.3" x2="245.8" y1="361.60" y2="361.60" stroke="#bdbdbd" stroke-width="1"/>
<line x1="39.3" x2="245.8" y1="354.11" y2="354.11" stroke="#bdbdbd" stroke-width="1"/>
<line x1="39.3" x2="245.8" y1="348.80" y2="348.80" stroke="#bdbdbd" stroke-width="1"/>
<line x1="39.3" x2="245.8" y1="344.68" y2="344.68" stroke="#bdbdbd" stroke-width="1"/>
<line x1="39.3" x2="245.8" y1="341.31" y2="341.31" stroke="#bdbdbd" stroke-width="1"/>
<line x1="39.3" x2="245.8" y1="338.46" y2="338.46" stroke="#bdbdbd" stroke-width="1"/>
<line x1="39.3" x2="245.8" y1="335.99" y2="335.99" stroke="#bdbdbd" stroke-width="1"/>
<line x1="39.3" x2="245.8" y1="333.82" y2="333.82" stroke="#bdbdbd" stroke-width="1"/>
<line x1="39.3" x2="245.8" y1="331.87" y2="331.87" stroke="#999" stroke-width="1"/>
<line x1="39.3" x2="245.8" y1="319.06" y2="319.06" stroke="#bdbdbd" stroke-width="1"/>
<line x1="39.3" x2="245.8" y1="311.57" y2="311.57" stroke="#bdbdbd" stroke-width="1"/>
<line x1="39.3" x2="245.8" y1="306.26" y2="306.26" stroke="#bdbdbd" stroke-width="1"/>
<line x1="39.3" x2="245.8" y1="302.14" y2="302.14" stroke="#bdbdbd" stroke-width="1"/>
<line x1="39.3" x2="245.8" y1="298.77" y2="298.77" stroke="#bdbdbd" stroke-width="1"/>
<line x1="39.3" x2="245.8" y1="295.92" y2="295.92" stroke="#bdbdbd" stroke-width="1"/>
<line x1="39.3" x2="245.8" y1="293.45" y2="293.45" stroke="#bdbdbd" stroke-width="1"/>
<line x1="39.3" x2="245.8" y1="291.28" y2="291.28" stroke="#bdbdbd" stroke-width="1"/>
<line x1="39.3" x2="245.8" y1="289.33" y2="289.33" stroke="#999" stroke-width="1"/>
<line x1="39.3" x2="245.8" y1="276.52" y2="276.52" stroke="#bdbdbd" stroke-width="1"/>
<line x1="39.3" x2="245.8" y1="269.03" y2="269.03" stroke="#bdbdbd" stroke-width="1"/>
<line x1="39.3" x2="245.8" y1="263.72" y2="263.72" stroke="#bdbdbd" stroke-width="1"/>
<line x1="39.3" x2="245.8" y1="259.60" y2="259.60" stroke="#bdbdbd" stroke-width="1"/>
<line x1="39.3" x2="245.8" y1="256.23" y2="256.23" stroke="#bdbdbd" stroke-width="1"/>
<line x1="39.3" x2="245.8" y1="253.38" y2="253.38" stroke="#bdbdbd" stroke-width="1"/>
<line x1="39.3" x2="245.8" y1="250.91" y2="250.91" stroke="#bdbdbd" stroke-width="1"/>
<line x1="39.3" x2="245.8" y1="248.74" y2="248.74" stroke="#bdbdbd" stroke-width="1"/>
<line x1="39.3" x2="245.8" y1="246.79" y2="246.79" stroke="#999" stroke-width="1"/>
<line x1="39.3" x2="245.8" y1="233.98" y2="233.98" stroke="#bdbdbd" stroke-width="1"/>
<line x1="39.3" x2="245.8" y1="226.49" y2="226.49" stroke="#bdbdbd" stroke-width="1"/>
<line x1="39.3" x2="245.8" y1="221.18" y2="221.18" stroke="#bdbdbd" stroke-width="1"/>
<line x1="39.3" x2="245.8" y1="217.06" y2="217.06" stroke="#bdbdbd" stroke-width="1"/>
<line x1="39.3" x2="245.8" y1="213.69" y2="213.69" stroke="#bdbdbd" stroke-width="1"/>
<line x1="39.3" x2="245.8" y1="210.84" y2="210.84" stroke="#bdbdbd" stroke-width="1"/>
<line x1="39.3" x2="245.8" y1="208.37" y2="208.37" stroke="#bdbdbd" stroke-width="1"/>
<line x1="39.3" x2="245.8" y1="206.20" y2="206.20" stroke="#bdbdbd" stroke-width="1"/>
<line x1="39.3" x2="245.8" y1="204.25" y2="204.25" stroke="#999" stroke-width="1"/>
<rect x="44.10" y="233.30" width="21.70" height="141.10" fill="#fff" stroke="none"/>
<rect x="44.10" y="233.30" width="21.70" height="141.10" fill="#000" stroke="none"/>
<path d="M44.10,374.40V233.30H65.80V374.40" fill="none" stroke="#222" stroke-width="0.8"/>
<line x1="54.95" x2="54.95" y1="233.30" y2="230.30" stroke="#606060" stroke-width="0.75"/>
<line x1="52.75" x2="57.15" y1="230.30" y2="230.30" stroke="#606060" stroke-width="0.75"/>
<rect x="65.80" y="292.20" width="21.70" height="82.20" fill="#fff" stroke="none"/>
<rect x="65.80" y="292.20" width="21.70" height="82.20" fill="#c8c8c8" stroke="none"/>
<path d="M65.80,374.40V292.20H87.50V374.40" fill="none" stroke="#222" stroke-width="0.8"/>
<line x1="76.65" x2="76.65" y1="292.20" y2="291.50" stroke="#606060" stroke-width="0.75"/>
<line x1="74.45" x2="78.85" y1="291.50" y2="291.50" stroke="#606060" stroke-width="0.75"/>
<rect x="87.50" y="323.50" width="21.70" height="50.90" fill="#fff" stroke="none"/>
<rect x="87.50" y="323.50" width="21.70" height="50.90" fill="#fff" stroke="none"/>
<path d="M87.50,374.40V323.50H109.20V374.40" fill="none" stroke="#222" stroke-width="0.8"/>
<line x1="98.35" x2="98.35" y1="323.50" y2="322.30" stroke="#606060" stroke-width="0.75"/>
<line x1="96.15" x2="100.55" y1="322.30" y2="322.30" stroke="#606060" stroke-width="0.75"/>
<rect x="109.20" y="355.20" width="21.70" height="19.20" fill="#fff" stroke="none"/>
<rect x="109.20" y="355.20" width="21.70" height="19.20" fill="#969696" stroke="none"/>
<path d="M109.20,374.40V355.20H130.90V374.40" fill="none" stroke="#222" stroke-width="0.8"/>
<line x1="120.05" x2="120.05" y1="355.20" y2="350.20" stroke="#606060" stroke-width="0.75"/>
<line x1="117.85" x2="122.25" y1="350.20" y2="350.20" stroke="#606060" stroke-width="0.75"/>
<rect x="152.35" y="208.20" width="21.70" height="166.20" fill="#fff" stroke="none"/>
<rect x="152.35" y="208.20" width="21.70" height="166.20" fill="#000" stroke="none"/>
<path d="M152.35,374.40V208.20H174.05V374.40" fill="none" stroke="#222" stroke-width="0.8"/>
<line x1="163.20" x2="163.20" y1="208.20" y2="205.30" stroke="#606060" stroke-width="0.75"/>
<line x1="161.00" x2="165.40" y1="205.30" y2="205.30" stroke="#606060" stroke-width="0.75"/>
<rect x="174.05" y="230.70" width="21.70" height="143.70" fill="#fff" stroke="none"/>
<rect x="174.05" y="230.70" width="21.70" height="143.70" fill="#c8c8c8" stroke="none"/>
<path d="M174.05,374.40V230.70H195.75V374.40" fill="none" stroke="#222" stroke-width="0.8"/>
<line x1="184.90" x2="184.90" y1="230.70" y2="229.70" stroke="#606060" stroke-width="0.75"/>
<line x1="182.70" x2="187.10" y1="229.70" y2="229.70" stroke="#606060" stroke-width="0.75"/>
<rect x="195.75" y="269.50" width="21.70" height="104.90" fill="#fff" stroke="none"/>
<rect x="195.75" y="269.50" width="21.70" height="104.90" fill="#fff" stroke="none"/>
<path d="M195.75,374.40V269.50H217.45V374.40" fill="none" stroke="#222" stroke-width="0.8"/>
<rect x="217.45" y="319.70" width="21.70" height="54.70" fill="#fff" stroke="none"/>
<rect x="217.45" y="319.70" width="21.70" height="54.70" fill="#969696" stroke="none"/>
<path d="M217.45,374.40V319.70H239.15V374.40" fill="none" stroke="#222" stroke-width="0.8"/>
<line x1="39.3" x2="39.3" y1="203.8" y2="374.79999999999995" stroke="#1a1a1a" stroke-width="0.9"/>
<line x1="38.9" x2="245.8" y1="374.4" y2="374.4" stroke="#1a1a1a" stroke-width="0.9"/>
<line x1="35.4" x2="39.3" y1="374.41" y2="374.41" stroke="#1a1a1a" stroke-width="0.8"/>
<text transform="translate(33.70,376.86) scale(0.865,1)" text-anchor="end" font-size="9.8" >0,1</text>
<line x1="37.3" x2="39.3" y1="361.60" y2="361.60" stroke="#1a1a1a" stroke-width="0.8"/>
<line x1="37.3" x2="39.3" y1="354.11" y2="354.11" stroke="#1a1a1a" stroke-width="0.8"/>
<line x1="37.3" x2="39.3" y1="348.80" y2="348.80" stroke="#1a1a1a" stroke-width="0.8"/>
<line x1="37.3" x2="39.3" y1="344.68" y2="344.68" stroke="#1a1a1a" stroke-width="0.8"/>
<line x1="37.3" x2="39.3" y1="341.31" y2="341.31" stroke="#1a1a1a" stroke-width="0.8"/>
<line x1="37.3" x2="39.3" y1="338.46" y2="338.46" stroke="#1a1a1a" stroke-width="0.8"/>
<line x1="37.3" x2="39.3" y1="335.99" y2="335.99" stroke="#1a1a1a" stroke-width="0.8"/>
<line x1="37.3" x2="39.3" y1="333.82" y2="333.82" stroke="#1a1a1a" stroke-width="0.8"/>
<line x1="35.4" x2="39.3" y1="331.87" y2="331.87" stroke="#1a1a1a" stroke-width="0.8"/>
<text transform="translate(33.70,334.32) scale(0.865,1)" text-anchor="end" font-size="9.8" >1</text>
<line x1="37.3" x2="39.3" y1="319.06" y2="319.06" stroke="#1a1a1a" stroke-width="0.8"/>
<line x1="37.3" x2="39.3" y1="311.57" y2="311.57" stroke="#1a1a1a" stroke-width="0.8"/>
<line x1="37.3" x2="39.3" y1="306.26" y2="306.26" stroke="#1a1a1a" stroke-width="0.8"/>
<line x1="37.3" x2="39.3" y1="302.14" y2="302.14" stroke="#1a1a1a" stroke-width="0.8"/>
<line x1="37.3" x2="39.3" y1="298.77" y2="298.77" stroke="#1a1a1a" stroke-width="0.8"/>
<line x1="37.3" x2="39.3" y1="295.92" y2="295.92" stroke="#1a1a1a" stroke-width="0.8"/>
<line x1="37.3" x2="39.3" y1="293.45" y2="293.45" stroke="#1a1a1a" stroke-width="0.8"/>
<line x1="37.3" x2="39.3" y1="291.28" y2="291.28" stroke="#1a1a1a" stroke-width="0.8"/>
<line x1="35.4" x2="39.3" y1="289.33" y2="289.33" stroke="#1a1a1a" stroke-width="0.8"/>
<text transform="translate(33.70,291.78) scale(0.865,1)" text-anchor="end" font-size="9.8" >10</text>
<line x1="37.3" x2="39.3" y1="276.52" y2="276.52" stroke="#1a1a1a" stroke-width="0.8"/>
<line x1="37.3" x2="39.3" y1="269.03" y2="269.03" stroke="#1a1a1a" stroke-width="0.8"/>
<line x1="37.3" x2="39.3" y1="263.72" y2="263.72" stroke="#1a1a1a" stroke-width="0.8"/>
<line x1="37.3" x2="39.3" y1="259.60" y2="259.60" stroke="#1a1a1a" stroke-width="0.8"/>
<line x1="37.3" x2="39.3" y1="256.23" y2="256.23" stroke="#1a1a1a" stroke-width="0.8"/>
<line x1="37.3" x2="39.3" y1="253.38" y2="253.38" stroke="#1a1a1a" stroke-width="0.8"/>
<line x1="37.3" x2="39.3" y1="250.91" y2="250.91" stroke="#1a1a1a" stroke-width="0.8"/>
<line x1="37.3" x2="39.3" y1="248.74" y2="248.74" stroke="#1a1a1a" stroke-width="0.8"/>
<line x1="35.4" x2="39.3" y1="246.79" y2="246.79" stroke="#1a1a1a" stroke-width="0.8"/>
<text transform="translate(33.70,249.24) scale(0.865,1)" text-anchor="end" font-size="9.8" >100</text>
<line x1="37.3" x2="39.3" y1="233.98" y2="233.98" stroke="#1a1a1a" stroke-width="0.8"/>
<line x1="37.3" x2="39.3" y1="226.49" y2="226.49" stroke="#1a1a1a" stroke-width="0.8"/>
<line x1="37.3" x2="39.3" y1="221.18" y2="221.18" stroke="#1a1a1a" stroke-width="0.8"/>
<line x1="37.3" x2="39.3" y1="217.06" y2="217.06" stroke="#1a1a1a" stroke-width="0.8"/>
<line x1="37.3" x2="39.3" y1="213.69" y2="213.69" stroke="#1a1a1a" stroke-width="0.8"/>
<line x1="37.3" x2="39.3" y1="210.84" y2="210.84" stroke="#1a1a1a" stroke-width="0.8"/>
<line x1="37.3" x2="39.3" y1="208.37" y2="208.37" stroke="#1a1a1a" stroke-width="0.8"/>
<line x1="37.3" x2="39.3" y1="206.20" y2="206.20" stroke="#1a1a1a" stroke-width="0.8"/>
<line x1="35.4" x2="39.3" y1="204.25" y2="204.25" stroke="#1a1a1a" stroke-width="0.8"/>
<text transform="translate(33.70,206.70) scale(0.865,1)" text-anchor="end" font-size="9.8" >1000</text>
<line x1="87.5" x2="87.5" y1="374.4" y2="377.59999999999997" stroke="#1a1a1a" stroke-width="0.8"/>
<line x1="195.75" x2="195.75" y1="374.4" y2="377.59999999999997" stroke="#1a1a1a" stroke-width="0.8"/>
<line x1="141.7" x2="141.7" y1="374.4" y2="376.2" stroke="#1a1a1a" stroke-width="0.8"/>
<text transform="translate(87.50,387.30) scale(0.92,1)" text-anchor="middle" font-size="10.2" >V275C</text>
<text transform="translate(195.75,387.30) scale(0.92,1)" text-anchor="middle" font-size="10.2" >A286C</text>
<text transform="translate(14.3,285.3) rotate(-90) scale(0.962,1.0)" text-anchor="middle" font-size="9.8">Modification rate (M<tspan font-size="6.2" dy="-5.2" dx="0.3" letter-spacing="0.4">-1</tspan><tspan dy="5.2">s</tspan><tspan font-size="6.2" dy="-5.2" dx="0.3" letter-spacing="0.4">-1</tspan><tspan dy="5.2" dx="0.3">)</tspan></text>
<text transform="translate(0.2,208.4) scale(0.9,1)" font-size="14.5" font-weight="bold" fill="#000" stroke="#000" stroke-width="0.3">C</text>
<rect x="72.4" y="211.4" width="71" height="49.9" fill="#fff" stroke="#555" stroke-width="0.8"/>
<rect x="77" y="214.80" width="20.8" height="7.9" fill="#000" stroke="#555" stroke-width="0.8"/>
<text transform="translate(100.70,222.30) scale(0.885,1)" text-anchor="start" font-size="10.5" >MTSEA</text>
<rect x="77" y="226.75" width="20.8" height="7.9" fill="#c8c8c8" stroke="#555" stroke-width="0.8"/>
<text transform="translate(100.70,234.25) scale(0.885,1)" text-anchor="start" font-size="10.5" >MTSET</text>
<rect x="77" y="238.70" width="20.8" height="7.9" fill="#fff" stroke="#555" stroke-width="0.8"/>
<text transform="translate(100.70,246.20) scale(0.885,1)" text-anchor="start" font-size="10.5" >MTSACE</text>
<rect x="77" y="250.65" width="20.8" height="7.9" fill="#969696" stroke="#555" stroke-width="0.8"/>
<text transform="translate(100.70,258.15) scale(0.885,1)" text-anchor="start" font-size="10.5" >MTSES</text>
</svg>
</body></html>
